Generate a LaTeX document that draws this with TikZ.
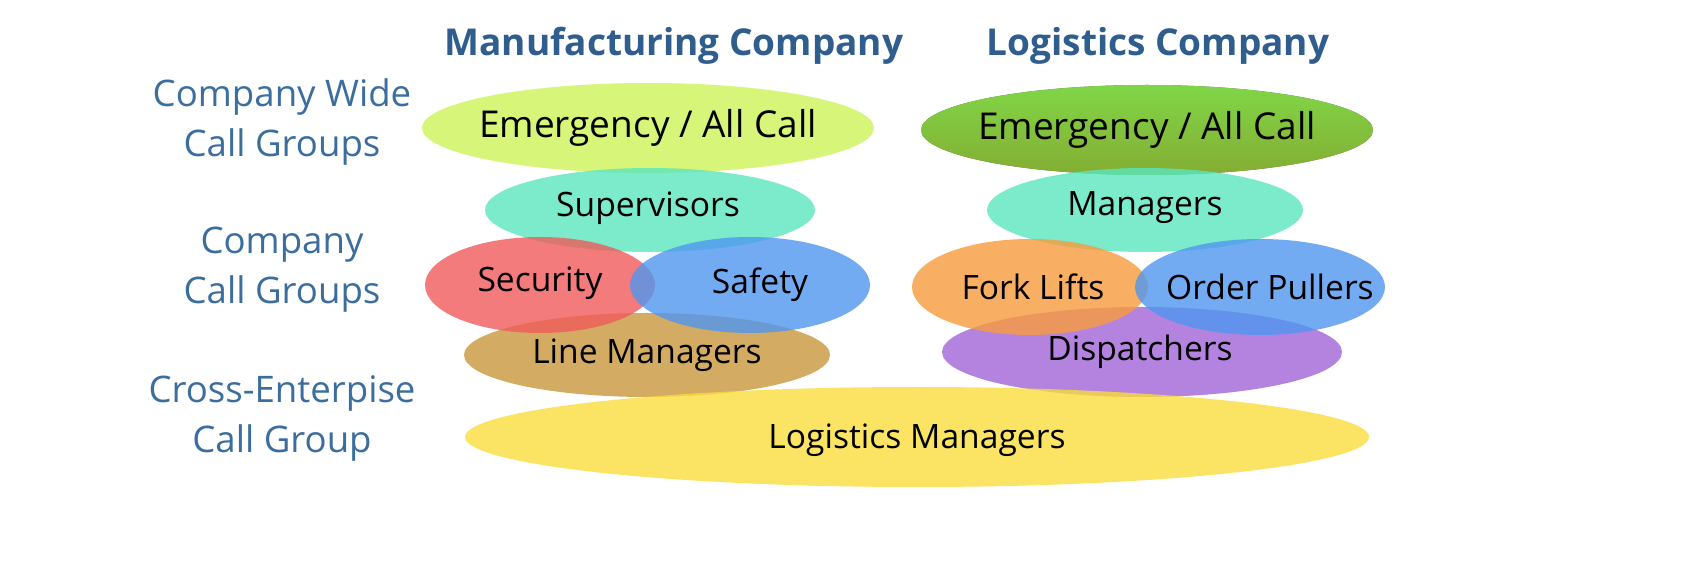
\documentclass[tikz,border=0pt]{standalone}
\usepackage{fontspec}
\setmainfont{Open Sans}
\begin{document}
\begin{tikzpicture}[x=0.5pt,y=-0.5pt,
  e/.style={opacity=0.8},
  lab/.style={font=\fontsize{18.5}{22}\selectfont,text=black},
  sm/.style={font=\fontsize{16.8}{20}\selectfont,text=black},
  side/.style={font=\fontsize{18.3}{25}\selectfont,align=center,text=side},
  head/.style={font=\bfseries\fontsize{18.5}{22}\selectfont,text=headc}]
\definecolor{side}{HTML}{3B6E9E}
\definecolor{headc}{HTML}{2F5E8E}
\definecolor{lime}{RGB}{215,245,120}
\useasboundingbox (0,0) rectangle (1698,566);
\fill[white] (0,0) rectangle (1698,566);
\fill[lime] (648,128) ellipse [x radius=226,y radius=45];
\fill[e,top color=green!60!yellow!70,bottom color=green!50!black!50!yellow!80] (1147,130) ellipse [x radius=226,y radius=45];
\fill[e,color={rgb,255:red,90;green,230;blue,190}] (650,210) ellipse [x radius=165,y radius=42];
\fill[e,color={rgb,255:red,90;green,230;blue,190}] (1145,210) ellipse [x radius=158,y radius=42];
\fill[e,color={rgb,255:red,200;green,150;blue,60}] (647,355) ellipse [x radius=183,y radius=42];
\fill[e,color={rgb,255:red,160;green,100;blue,215}] (1142,352) ellipse [x radius=200,y radius=45];
\fill[e,color={rgb,255:red,250;green,220;blue,60}] (917,437) ellipse [x radius=452,y radius=50];
\fill[e,color={rgb,255:red,240;green,90;blue,90}] (540,285) ellipse [x radius=115,y radius=48];
\fill[e,color={rgb,255:red,80;green,150;blue,240}] (750,285) ellipse [x radius=120,y radius=48];
\fill[e,color={rgb,255:red,248;green,155;blue,60}] (1030,287) ellipse [x radius=118,y radius=48];
\fill[e,color={rgb,255:red,80;green,150;blue,240}] (1260,287) ellipse [x radius=125,y radius=48];
\node[head] (h1) at (674,46) {Manufacturing Company};
\node[head] (h2) at (1158,46) {Logistics Company};
\node[side] (s1) at (282,122) {Company Wide\\Call Groups};
\node[side] (s2) at (282,270) {Company\\Call Groups};
\node[side] (s3) at (282,418) {Cross-Enterpise\\Call Group};
\node[lab] (a1) at (648,128) {Emergency / All Call};
\node[lab] (a2) at (1147,130) {Emergency / All Call};
\node[sm] (a3) at (648,208) {Supervisors};
\node[sm] (a4) at (1145,208) {Managers};
\node[sm] (a5) at (540,283) {Security};
\node[sm] (a6) at (760,285) {Safety};
\node[sm] (a7) at (1033,287) {Fork Lifts};
\node[sm] (a8) at (1270,287) {Order Pullers};
\node[sm] (a9) at (647,355) {Line Managers};
\node[sm] (a10) at (1140,352) {Dispatchers};
\node[sm] (a11) at (917,440) {Logistics Managers};
\end{tikzpicture}
\end{document}
